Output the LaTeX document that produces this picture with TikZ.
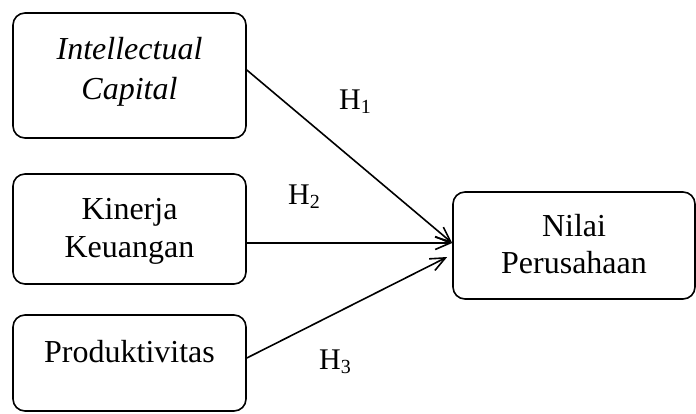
\documentclass[tikz,border=0pt]{standalone}
\usepackage{fontspec}
\setmainfont{Liberation Serif}
\usetikzlibrary{arrows.meta}
\tikzset{
  box/.style={draw, line width=1.6pt, rounded corners=12pt, inner sep=0pt, align=center,
    font=\fontsize{32}{37}\selectfont},
  arr/.style={line width=1.6pt, -{Straight Barb[length=15pt,width=13pt,line width=1.6pt]}},
  hyp/.style={font=\fontsize{30}{36}\selectfont, inner sep=0pt}
}
\newcommand{\hsub}[1]{H\raisebox{-4pt}{\fontsize{20}{20}\selectfont #1}}
\begin{document}
\begin{tikzpicture}[x=1pt,y=-1pt]
\useasboundingbox (0,0) rectangle (696,414);
\node[box, minimum width=233pt, minimum height=125pt, text height=62pt, text depth=13pt] (ic) at (129.5,75.5) {\itshape Intellectual\\[3pt]\itshape Capital};
\node[box, minimum width=233pt, minimum height=110pt, text height=59pt, text depth=3pt] (kk) at (129.5,229) {Kinerja\\Keuangan};
\node[box, minimum width=233pt, minimum height=96pt, text height=22pt, text depth=24pt] (pr) at (129.5,363) {Produktivitas};
\node[box, minimum width=242pt, minimum height=107pt, text height=59pt, text depth=4pt] (np) at (574,245.5) {Nilai\\Perusahaan};
\draw[arr] ([yshift=5.5pt]ic.east) -- ([yshift=2.5pt]np.west);
\draw[arr] ([yshift=-14pt]kk.east) -- ([yshift=2.5pt]np.west);
\draw[arr] ([yshift=5pt]pr.east) -- ([xshift=-5pt,yshift=-11.5pt]np.west);
\node[hyp] (h1) at (355,102) {\hsub{1}};
\node[hyp] (h2) at (304,197) {\hsub{2}};
\node[hyp] (h3) at (335,362) {\hsub{3}};
\end{tikzpicture}
\end{document}
